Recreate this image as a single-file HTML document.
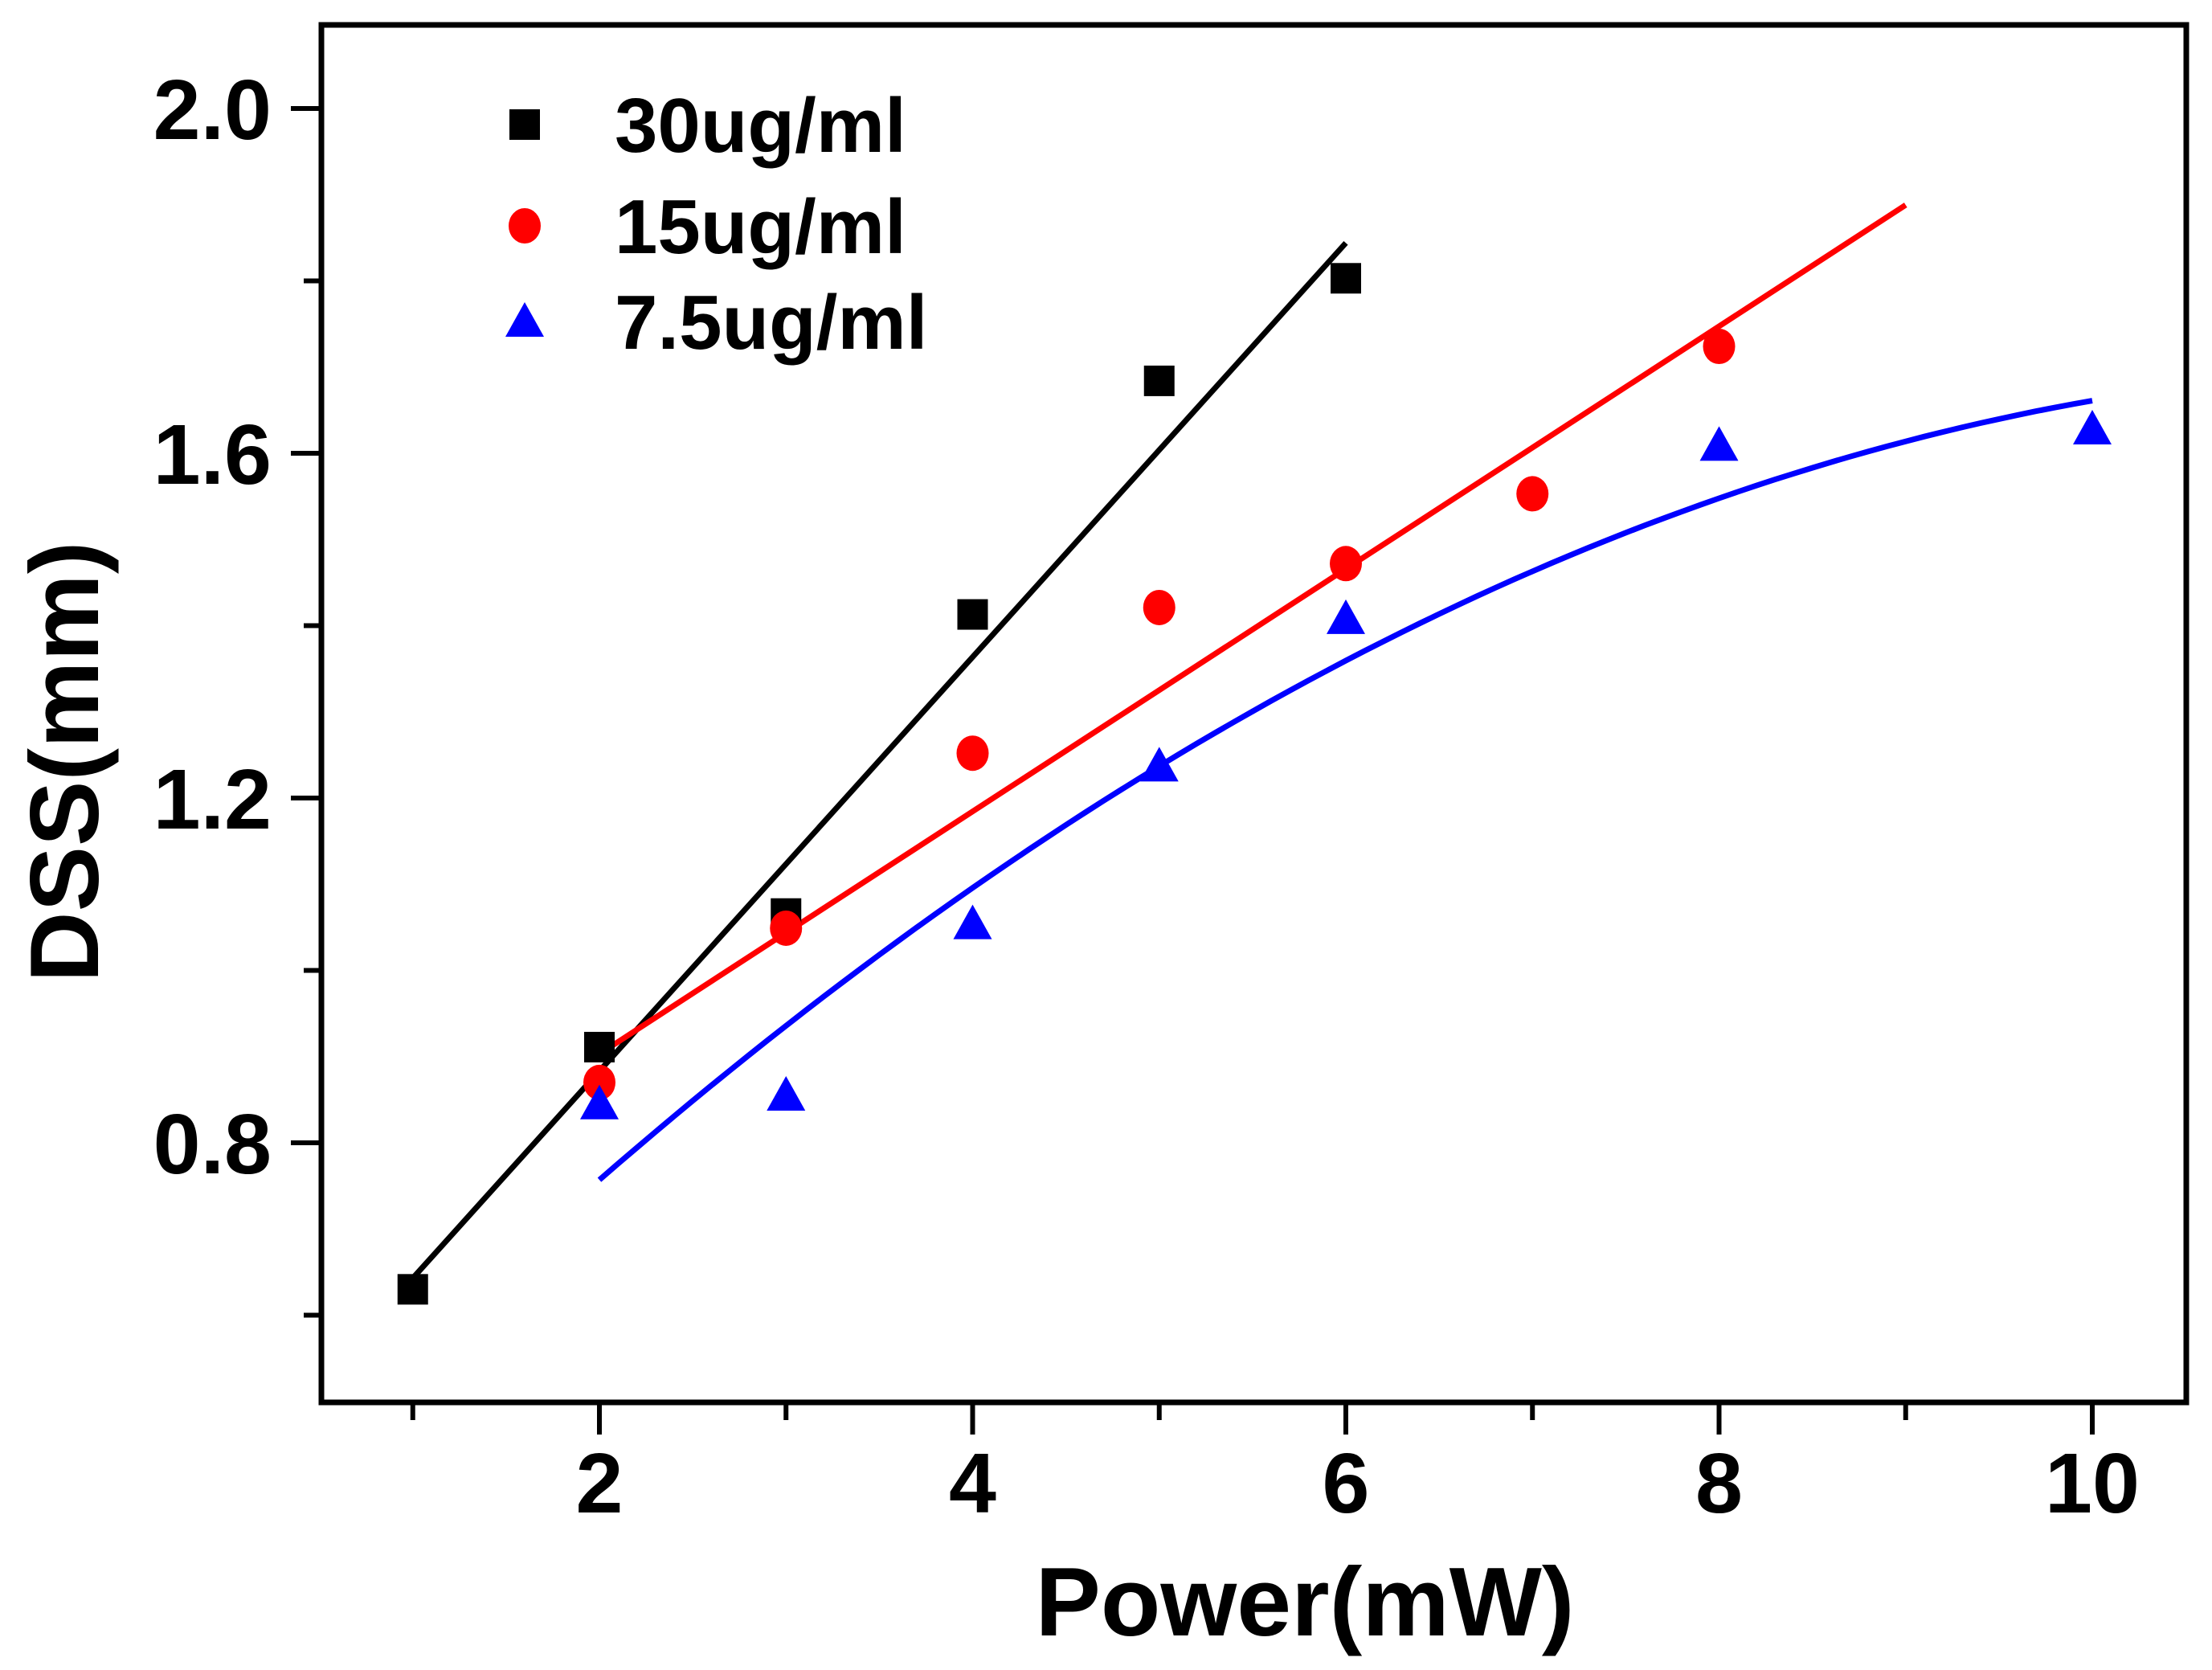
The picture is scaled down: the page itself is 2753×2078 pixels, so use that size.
<!DOCTYPE html>
<html><head><meta charset="utf-8">
<style>
html,body{margin:0;padding:0;background:#fff;}
svg{display:block;font-family:"Liberation Sans",Arial,sans-serif;font-weight:bold;}
</style></head>
<body>
<svg id="chart" width="2753" height="2078" viewBox="0 0 2753 2078" xmlns="http://www.w3.org/2000/svg">
<rect x="0" y="0" width="2753" height="2078" fill="#fff"/>
<g id="plot"></g>
</svg>
<script>
const xTicks = [2, 4, 6, 8, 10];
const xMinor = [1, 3, 5, 7, 9];
const yTicks = [0.8, 1.2, 1.6, 2.0];
const yTickLabels = ["0.8", "1.2", "1.6", "2.0"];
const yMinor = [0.6, 1.0, 1.4, 1.8];

const seriesNames = ["30ug/ml", "15ug/ml", "7.5ug/ml"];
const blackX = [1, 2, 3, 4, 5, 6];
const blackY = [0.63, 0.911, 1.066, 1.413, 1.684, 1.803];
const redX = [2, 3, 4, 5, 6, 7, 8];
const redY = [0.87, 1.049, 1.252, 1.421, 1.472, 1.553, 1.724];
const blueX = [2, 3, 4, 5, 6, 8, 10];
const blueY = [0.845, 0.855, 1.054, 1.237, 1.408, 1.609, 1.628];

// fit lines
const blackFitX = [1, 6];
const blackFitY = [0.643, 1.844];
const redFitX = [2, 9];
const redFitY = [0.903, 1.888];
const blueFitRange = [2, 10];
const blueFitCoef = [0.343, 0.2258, -0.0094]; // a + b x + c x^2

const L = 400, R = 2721, T = 31, B = 1745;
function sx(v){ return 746 + (v - 2) * 232.25; }
function sy(v){ return 135 + (2.0 - v) * 1072.5; }

const NS = "http://www.w3.org/2000/svg";
const g = document.getElementById('plot');
function mk(tag, attrs, parent){
  const e = document.createElementNS(NS, tag);
  for (const k in attrs) e.setAttribute(k, attrs[k]);
  (parent || g).appendChild(e);
  return e;
}

const frame = mk('rect', {x:L, y:T, width:R-L, height:B-T, fill:'none', stroke:'#000', 'stroke-width':7});



xTicks.forEach((v, i) => {
  const t = mk('line', {x1:sx(v), x2:sx(v), y1:B, y2:B+40, stroke:'#000', 'stroke-width':6});
  
  
  const lb = mk('text', {x:sx(v), y:1882, 'text-anchor':'middle', 'font-size':106, fill:'#000'});
  lb.textContent = String(v);
  
  
});
xMinor.forEach(v => {
  const t = mk('line', {x1:sx(v), x2:sx(v), y1:B, y2:B+22, stroke:'#000', 'stroke-width':6});
  
  
});
yTicks.forEach((v, i) => {
  const t = mk('line', {x1:L-38, x2:L, y1:sy(v), y2:sy(v), stroke:'#000', 'stroke-width':6});
  
  
  const lb = mk('text', {x:338, y:sy(v)+38, 'text-anchor':'end', 'font-size':106, fill:'#000'});
  lb.textContent = yTickLabels[i];
  
  
});
yMinor.forEach(v => {
  const t = mk('line', {x1:L-22, x2:L, y1:sy(v), y2:sy(v), stroke:'#000', 'stroke-width':6});
  
  
});

const xt = mk('text', {x:1624, y:2035, 'text-anchor':'middle', 'font-size':122, fill:'#000'});
xt.textContent = 'Power(mW)';


const yt = mk('text', {x:0, y:0, 'text-anchor':'middle', 'font-size':122, fill:'#000', transform:'translate(122,948) rotate(-90)'});
yt.textContent = 'DSS(mm)';



const bl = mk('line', {x1:sx(blackFitX[0]), y1:sy(blackFitY[0]), x2:sx(blackFitX[1]), y2:sy(blackFitY[1]), stroke:'#000', 'stroke-width':7});


const rl = mk('line', {x1:sx(redFitX[0]), y1:sy(redFitY[0]), x2:sx(redFitX[1]), y2:sy(redFitY[1]), stroke:'#ff0000', 'stroke-width':7});


let d = '';
for (let k = 0; k <= 80; k++) {
  const x = blueFitRange[0] + (blueFitRange[1] - blueFitRange[0]) * k / 80;
  const y = blueFitCoef[0] + blueFitCoef[1]*x + blueFitCoef[2]*x*x;
  d += (k ? 'L' : 'M') + sx(x).toFixed(1) + ' ' + sy(y).toFixed(1);
}
const bc = mk('path', {d:d, fill:'none', stroke:'#0000ff', 'stroke-width':7});



function square(cx, cy, name){
  const e = mk('rect', {x:cx-19, y:cy-19, width:38, height:38, fill:'#000'});
  
  
}
function circle(cx, cy, name){
  const e = mk('ellipse', {cx:cx, cy:cy, rx:20, ry:22, fill:'#ff0000'});
  
  
}
function tri(cx, cy, name){
  const e = mk('polygon', {points:`${cx},${cy-24} ${cx+24},${cy+19} ${cx-24},${cy+19}`, fill:'#0000ff'});
  
  
}
blackX.forEach((x, i) => square(sx(x), sy(blackY[i]), 'point-30ug'));
redX.forEach((x, i) => circle(sx(x), sy(redY[i]), 'point-15ug'));
blueX.forEach((x, i) => tri(sx(x), sy(blueY[i]), 'point-7-5ug'));

const legY = [155, 281, 400];
square(653, legY[0], 'legend-marker-30ug');
circle(653, legY[1], 'legend-marker-15ug');
tri(653, legY[2], 'legend-marker-7-5ug');
seriesNames.forEach((n, i) => {
  const t = mk('text', {x:765, y:legY[i]+34, 'font-size':96, fill:'#000'});
  t.textContent = n;
  
  
});
</script>
</body></html>
